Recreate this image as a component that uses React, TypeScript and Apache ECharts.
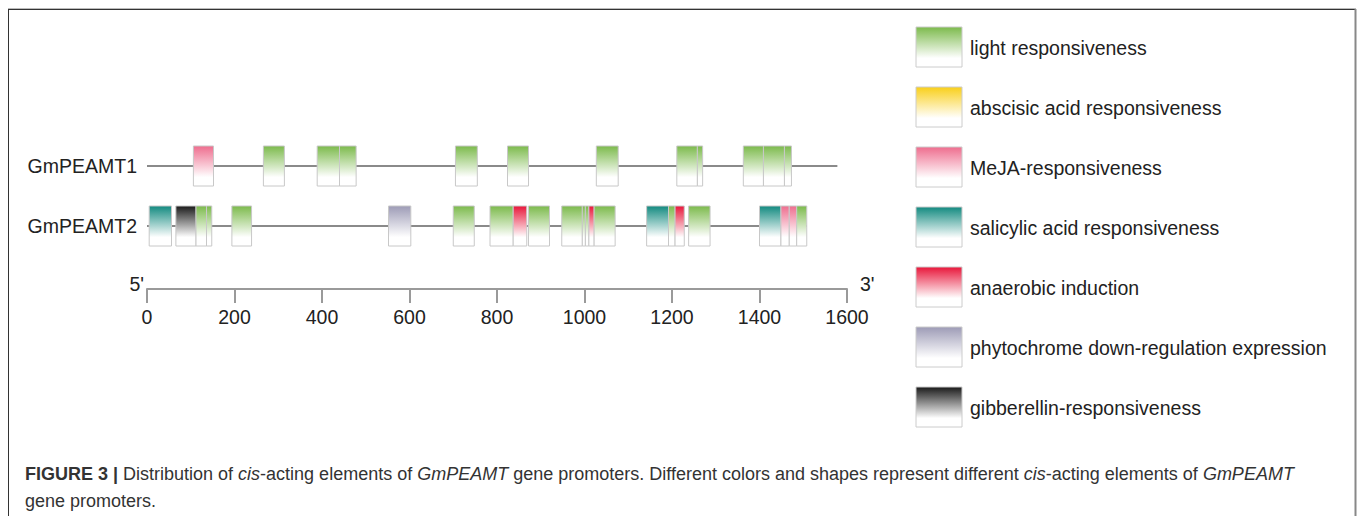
import React, { useEffect, useRef } from "react";
import * as echarts from "echarts";

const categories = [
  "light responsiveness",
  "abscisic acid responsiveness",
  "MeJA-responsiveness",
  "salicylic acid responsiveness",
  "anaerobic induction",
  "phytochrome down-regulation expression",
  "gibberellin-responsiveness",
];
const categoryColors = ["#7cba4c", "#f9cf1a", "#ee6d8e", "#138a80", "#e8163a", "#9d9bb6", "#1a1a1a"];

const genes = ["GmPEAMT1", "GmPEAMT2"];
const geneLengths = [1578, 1508];

// [start, end, categoryIndex]
const gene1Elements = [
  [106, 152, 2], [266, 314, 0], [389, 440, 0], [440, 478, 0], [705, 755, 0],
  [824, 872, 0], [1027, 1077, 0], [1211, 1258, 0], [1258, 1270, 0],
  [1363, 1409, 0], [1409, 1457, 0], [1457, 1473, 0],
];
const gene2Elements = [
  [5, 56, 3], [66, 112, 6], [112, 136, 0], [136, 148, 0], [194, 239, 0],
  [552, 603, 5], [700, 748, 0], [784, 837, 0], [837, 868, 4], [872, 920, 0],
  [948, 995, 0], [995, 1002, 0], [1002, 1010, 0], [1010, 1022, 4], [1022, 1070, 0],
  [1142, 1192, 3], [1192, 1207, 0], [1207, 1228, 4], [1238, 1287, 0],
  [1400, 1449, 3], [1449, 1468, 2], [1468, 1485, 2], [1485, 1508, 0],
];
const axisMin = 0;
const axisMax = 1600;
const axisInterval = 200;

const FONT = "'Liberation Sans', Arial, Helvetica, sans-serif";
const LABEL_SIZE = 19.5;
const CAPTION_SIZE = 18;

function grad(color: string) {
  return new echarts.graphic.LinearGradient(0, 0, 0, 1, [
    { offset: 0, color },
    { offset: 0.78, color: "#ffffff" },
    { offset: 1, color: "#ffffff" },
  ]);
}

export default function App() {
  const ref = useRef<HTMLDivElement>(null);
  useEffect(() => {
    if (!ref.current) return;
    const chart = echarts.init(ref.current, null, { renderer: "svg" });

    const elementData: any[] = [];
    [gene1Elements, gene2Elements].forEach((els, gi) => {
      els.forEach((e) => elementData.push([e[0], e[1], gi, e[2]]));
    });
    const backboneData = geneLengths.map((len, gi) => [0, len, gi]);

    const legendGraphics: any[] = [];
    categories.forEach((name, i) => {
      legendGraphics.push({
        type: "rect",
        shape: { x: 916, y: 27 + 60 * i, width: 46, height: 40 },
        style: { fill: grad(categoryColors[i]), stroke: "#cccccc", lineWidth: 1 },
      });
      legendGraphics.push({
        type: "text",
        x: 970,
        y: 48 + 60 * i,
        style: { text: name, fontSize: LABEL_SIZE, fontFamily: FONT, fill: "#222", verticalAlign: "middle" },
      });
    });

    const option: any = {
      animation: false,
      backgroundColor: "#ffffff",
      grid: { left: 147, width: 700, top: 136, height: 120 },
      xAxis: {
        type: "value",
        min: axisMin,
        max: axisMax,
        interval: axisInterval,
        position: "bottom",
        offset: 33,
        splitLine: { show: false },
        axisLine: { show: true, lineStyle: { color: "#9a9a9a", width: 2 } },
        axisTick: { show: true, length: 14, lineStyle: { color: "#9a9a9a", width: 2 } },
        axisLabel: {
          fontSize: LABEL_SIZE,
          color: "#222",
          fontFamily: FONT,
          margin: 18,
          formatter: (v: number) => String(v),
        },
      },
      yAxis: {
        type: "category",
        data: [genes[1], genes[0]],
        axisLine: { show: false },
        axisTick: { show: false },
        splitLine: { show: false },
        axisLabel: { fontSize: LABEL_SIZE, color: "#222", fontFamily: FONT, margin: 10 },
      },
      series: [
        {
          type: "custom",
          data: backboneData,
          renderItem: (params: any, api: any) => {
            const row = genes[api.value(2)];
            const p0 = api.coord([api.value(0), row]);
            const p1 = api.coord([api.value(1), row]);
            return {
              type: "line",
              shape: { x1: p0[0], y1: p0[1], x2: p1[0], y2: p1[1] },
              style: { stroke: "#8a8a8a", lineWidth: 2 },
            };
          },
        },
        {
          type: "custom",
          data: elementData,
          renderItem: (params: any, api: any) => {
            const row = genes[api.value(2)];
            const p0 = api.coord([api.value(0), row]);
            const p1 = api.coord([api.value(1), row]);
            const c = categoryColors[api.value(3)];
            return {
              type: "rect",
              shape: { x: p0[0], y: p0[1] - 20, width: p1[0] - p0[0], height: 40 },
              style: { fill: grad(c), stroke: "#c8c8c8", lineWidth: 1 },
            };
          },
        },
      ],
      graphic: [
        { type: "line", shape: { x1: 8, y1: 8.5, x2: 1356, y2: 8.5 }, style: { stroke: "#bbbbbb", lineWidth: 1 } },
        { type: "line", shape: { x1: 8, y1: 9.5, x2: 1355, y2: 9.5 }, style: { stroke: "#333333", lineWidth: 1 } },
        { type: "line", shape: { x1: 8.5, y1: 9, x2: 8.5, y2: 516 }, style: { stroke: "#333333", lineWidth: 1 } },
        { type: "line", shape: { x1: 1355.5, y1: 9, x2: 1355.5, y2: 516 }, style: { stroke: "#888888", lineWidth: 2 } },
        {
          type: "text",
          x: 144,
          y: 284,
          style: { text: "5'", fontSize: LABEL_SIZE, fontFamily: FONT, fill: "#222", align: "right", verticalAlign: "middle" },
        },
        {
          type: "text",
          x: 860,
          y: 284,
          style: { text: "3'", fontSize: LABEL_SIZE, fontFamily: FONT, fill: "#222", align: "left", verticalAlign: "middle" },
        },
        ...legendGraphics,
        {
          type: "text",
          x: 25,
          y: 474,
          style: {
            text:
              "{b|FIGURE 3 |} Distribution of {i|cis}-acting elements of {i|GmPEAMT} gene promoters. Different colors and shapes represent different {i|cis}-acting elements of {i|GmPEAMT}",
            fontSize: CAPTION_SIZE,
            fontFamily: FONT,
            fill: "#333",
            verticalAlign: "middle",
            rich: {
              b: { fontWeight: "bold", fontSize: CAPTION_SIZE, fontFamily: FONT, fill: "#333" },
              i: { fontStyle: "italic", fontSize: CAPTION_SIZE, fontFamily: FONT, fill: "#333" },
            },
          },
        },
        {
          type: "text",
          x: 25,
          y: 501,
          style: { text: "gene promoters.", fontSize: CAPTION_SIZE, fontFamily: FONT, fill: "#333", verticalAlign: "middle" },
        },
      ],
    };
    chart.setOption(option);
    return () => chart.dispose();
  }, []);
  return <div ref={ref} style={{ position: "fixed", left: 0, top: 0, width: 1358, height: 516 }} />;
}
